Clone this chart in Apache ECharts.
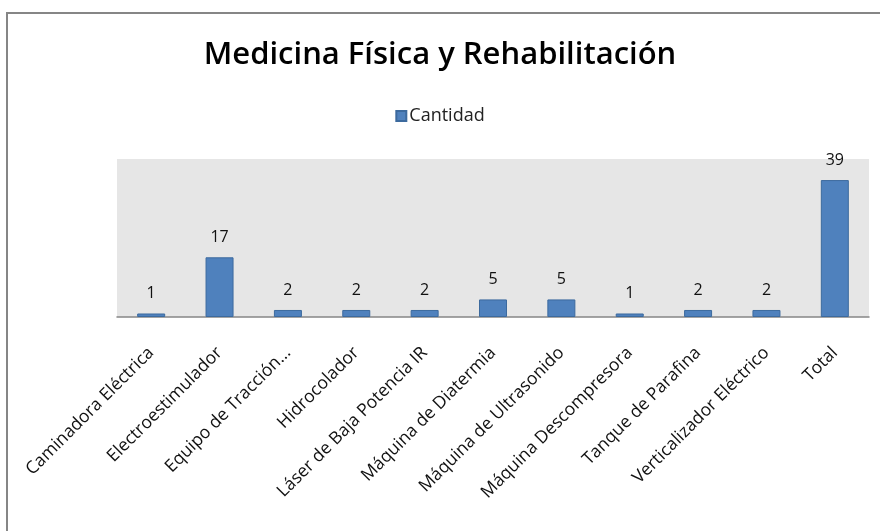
<!DOCTYPE html>
<html>
<head>
<meta charset="utf-8">
<script src="https://cdn.jsdelivr.net/npm/echarts@6/dist/echarts.min.js"></script>
<style>
  html, body { margin: 0; padding: 0; background: #fff; }
  #chart { width: 880px; height: 531px; }
</style>
</head>
<body>
<div id="chart"></div>
<script>
var categories = ['Caminadora Eléctrica', 'Electroestimulador', 'Equipo de Tracción...', 'Hidrocolador',
    'Láser de Baja Potencia IR', 'Máquina de Diatermia', 'Máquina de Ultrasonido',
    'Máquina Descompresora', 'Tanque de Parafina', 'Verticalizador Eléctrico', 'Total'];
var cantidad = [1, 17, 2, 2, 2, 5, 5, 1, 2, 2, 39];
var seriesName = 'Cantidad';
var titleText = 'Medicina Física y Rehabilitación';

var font = '"Open Sans", "Noto Sans", sans-serif';
var chart = echarts.init(document.getElementById('chart'));
chart.setOption({
    animation: false,
    backgroundColor: '#fff',
    title: {
        text: titleText,
        left: 'center',
        top: 35,
        textStyle: { fontFamily: font, fontSize: 31, fontWeight: 600, color: '#000' }
    },
    legend: {
        data: [seriesName],
        left: 'center',
        top: 102,
        itemWidth: 10,
        itemHeight: 10,
        itemGap: 4,
        icon: 'rect',
        textStyle: { fontFamily: font, fontSize: 18, color: '#222', padding: [0, 0, 0, -2] }
    },
    grid: {
        left: 117,
        right: 11,
        top: 159,
        bottom: 214,
        show: true,
        backgroundColor: '#e6e6e6',
        borderWidth: 0
    },
    xAxis: {
        type: 'category',
        data: categories,
        axisLine: { lineStyle: { color: '#868686', width: 1.5 } },
        axisTick: { show: false },
        axisLabel: {
            interval: 0,
            rotate: 45,
            margin: 33,
            fontFamily: font,
            fontSize: 17.5,
            color: '#111'
        }
    },
    yAxis: {
        type: 'value',
        min: 0,
        max: 45,
        interval: 5,
        show: false,
        splitLine: { show: false }
    },
    series: [{
        name: seriesName,
        type: 'bar',
        data: cantidad,
        barWidth: 28,
        itemStyle: { color: '#4f81bd', borderColor: '#3c6a9e', borderWidth: 1 },
        label: {
            show: true,
            position: 'top',
            distance: 12,
            fontFamily: font,
            fontSize: 16,
            color: '#111'
        }
    }],
    graphic: [{
        type: 'rect',
        shape: { x: 7, y: 13, width: 880, height: 530 },
        style: { fill: 'none', stroke: '#868686', lineWidth: 2 },
        silent: true
    }]
});
</script>
</body>
</html>
